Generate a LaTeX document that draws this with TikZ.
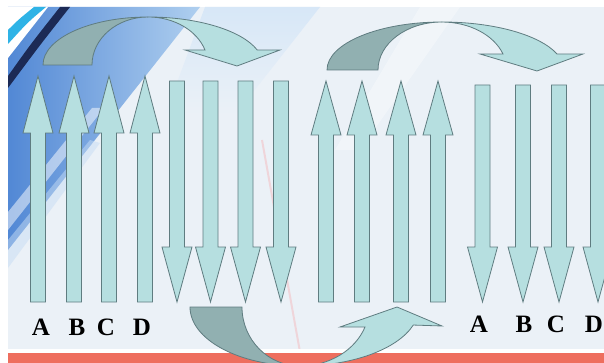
\documentclass[tikz,border=0pt]{standalone}
\usepackage{fontspec}
\setmainfont{Liberation Serif}
\definecolor{arrfill}{HTML}{B6DFE0}
\definecolor{arredge}{HTML}{5F7C80}
\definecolor{darkfill}{HTML}{91B0B1}
\definecolor{bgpale}{HTML}{EBF1F7}
\definecolor{blueA}{HTML}{5288D5}
\definecolor{blueB}{HTML}{AFCFEF}
\definecolor{navyS}{HTML}{1C2A55}
\definecolor{cyanS}{HTML}{2FB3E6}
\definecolor{redbar}{HTML}{EE6E5E}
\newcommand\UpShape[4]{%
  \path[varrow] ({#1},{#2}) -- ({#1+15},{#3}) -- ({#1+7.5},{#3}) -- ({#1+7.5},{#4})
    -- ({#1-7.5},{#4}) -- ({#1-7.5},{#3}) -- ({#1-15},{#3}) -- cycle;}
\newcommand\DownShape[4]{%
  \path[varrow] ({#1},{#2}) -- ({#1+15},{#3}) -- ({#1+7.5},{#3}) -- ({#1+7.5},{#4})
    -- ({#1-7.5},{#4}) -- ({#1-7.5},{#3}) -- ({#1-15},{#3}) -- cycle;}
\begin{document}
\begin{tikzpicture}[x=1pt,y=-1pt,
  varrow/.style={fill=arrfill,draw=arredge,line width=0.8pt,line join=miter},
  curvdark/.style={fill=darkfill,draw=arredge,line width=0.8pt,line join=miter},
  curvlight/.style={fill=arrfill,draw=arredge,line width=0.8pt,line join=miter},
  letter/.style={font=\fontsize{25}{25}\selectfont\bfseries,inner sep=0pt,anchor=base}]
\useasboundingbox (0,0) rectangle (604,363);
\begin{scope}
\clip (0,0) rectangle (604,363);
% background
\fill[white] (0,0) rectangle (604,363);
\fill[bgpale] (8,7) rectangle (604,352);
\shade[top color=blueB!50!white, bottom color=bgpale] (205,7) -- (320,7) -- (235,115) -- (165,115) -- cycle;
\shade[left color=blueA, right color=blueB] (8,7) -- (200,7) -- (8,250) -- cycle;
\fill[white,opacity=0.5] (8,212) -- (92,108) -- (104,108) -- (8,230) -- cycle;
\fill[blueB!70!white,opacity=0.5] (8,240) -- (90,140) -- (100,143) -- (8,268) -- cycle;
\fill[white] (8,7) -- (48,7) -- (8,58) -- cycle;
\fill[cyanS] (8,30) .. controls (18,20) .. (34,7) -- (46,7) .. controls (28,22) .. (8,44) -- cycle;
\fill[navyS] (8,76) .. controls (30,45) .. (60,7) -- (70,7) .. controls (40,45) .. (8,88) -- cycle;
\fill[white,opacity=0.35] (420,7) -- (460,7) -- (360,150) -- (335,150) -- cycle;
\draw[red!60,opacity=0.2,line width=2pt] (262,140) -- (300,352);
\fill[white] (8,349) rectangle (604,353);
\fill[redbar] (8,353) rectangle (604,363);
% vertical arrows
\foreach \cx in {38,74,109,145} {\UpShape{\cx}{76}{133}{302}}
\foreach \cx in {177,210.5,245.5,281} {\DownShape{\cx}{302}{247}{81}}
\foreach \cx in {326,362,401,438} {\UpShape{\cx}{81}{135}{302}}
\foreach \cx in {482.5,523,559,598} {\DownShape{\cx}{302}{247}{85}}
% curved arrow top left
\path[curvdark] (43,65) arc[start angle=180, end angle=270, x radius=105, y radius=48]
  arc[start angle=270, end angle=180, x radius=56, y radius=48] -- cycle;
\path[curvlight] (148,17) arc[start angle=270, end angle=341.8, x radius=115, y radius=48]
  -- (280,50) -- (237,66) -- (185,50) -- (205,50)
  arc[start angle=341.8, end angle=270, x radius=60, y radius=48] -- cycle;
% curved arrow top right
\path[curvdark] (327,70) arc[start angle=180, end angle=270, x radius=115, y radius=48]
  arc[start angle=270, end angle=180, x radius=64, y radius=48] -- cycle;
\path[curvlight] (442,22) arc[start angle=270, end angle=340.5, x radius=122, y radius=48]
  -- (583,54) -- (537,71) -- (480,54) -- (503,54)
  arc[start angle=340.5, end angle=270, x radius=65, y radius=48] -- cycle;
% curved arrow bottom
\path[curvdark] (190,307) arc[start angle=180, end angle=90, x radius=110, y radius=59]
  arc[start angle=90, end angle=180, x radius=58, y radius=59] -- cycle;
\path[curvlight] (300,366) arc[start angle=90, end angle=17.8, x radius=119, y radius=59]
  -- (442,326) -- (397,307) -- (340,327) -- (365,327)
  arc[start angle=19.8, end angle=90, x radius=69, y radius=59] -- cycle;
\end{scope}
% letters
\node[letter] (la1) at (41,335) {A};
\node[letter] (lb1) at (77,335) {B};
\node[letter] (lc1) at (106,335) {C};
\node[letter] (ld1) at (142,335) {D};
\node[letter] (la2) at (479,332) {A};
\node[letter] (lb2) at (524,332) {B};
\node[letter] (lc2) at (556,332) {C};
\node[letter] (ld2) at (594,332) {D};
\end{tikzpicture}
\end{document}
